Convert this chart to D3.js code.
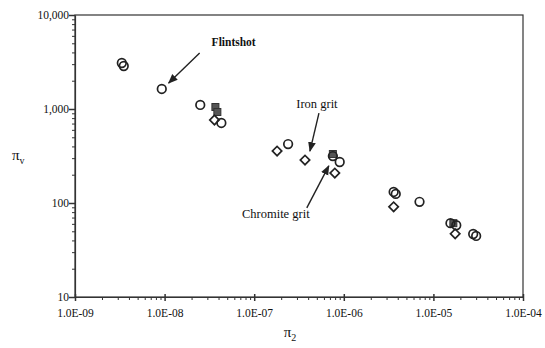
<!DOCTYPE html>
<html>
<head>
<meta charset="utf-8">
<script src="https://cdn.jsdelivr.net/npm/d3@7"></script>
<style>
  body { margin: 0; background: #fff; }
  text { font-family: "Liberation Serif", "DejaVu Serif", serif; fill: #111; }
</style>
</head>
<body>
<div id="chart"></div>
<script>
// open circles
const circlePts = [
  [3.33e-9, 3085], [3.5e-9, 2866], [9.3e-9, 1633], [2.5e-8, 1104], [4.3e-8, 710],
  [2.39e-7, 424], [7.55e-7, 316], [9.0e-7, 273], [3.6e-6, 131], [3.8e-6, 125],
  [7.0e-6, 103], [1.55e-5, 61], [1.8e-5, 58], [2.78e-5, 46.8], [3.0e-5, 44.6]
];
// open diamonds
const diamondPts = [
  [3.6e-8, 764], [1.8e-7, 357], [3.69e-7, 286], [7.94e-7, 208], [3.6e-6, 91], [1.75e-5, 47]
];
// filled squares
const squarePts = [
  [3.69e-8, 1050], [3.88e-8, 929], [7.55e-7, 332], [1.67e-5, 61]
];
const xTicks = [1e-9, 1e-8, 1e-7, 1e-6, 1e-5, 1e-4];
const xTickLabels = ["1.0E-09", "1.0E-08", "1.0E-07", "1.0E-06", "1.0E-05", "1.0E-04"];
const yTicks = [10, 100, 1000, 10000];
const yTickLabels = ["10", "100", "1,000", "10,000"];
// arrow head in data coords, tail and label offsets in px
const notes = [
  { text: "Flintshot", x: 1.11e-8, y: 1890, tail: [31, -30], lab: [65, -37], bold: true },
  { text: "Iron grit", x: 4.19e-7, y: 357, tail: [9, -38], lab: [7, -43] },
  { text: "Chromite grit", x: 6.8e-7, y: 248, tail: [-22, 42], lab: [-53, 52] }
];

const W = 545, H = 348;
const margin = { top: 15, right: 22, bottom: 51, left: 75 };
const width = W - margin.left - margin.right;
const height = H - margin.top - margin.bottom;

const svg = d3.select("#chart").append("svg")
  .attr("width", W).attr("height", H);

svg.append("defs").append("marker")
  .attr("id", "arr")
  .attr("viewBox", "0 0 10 10")
  .attr("refX", 9).attr("refY", 5)
  .attr("markerWidth", 7).attr("markerHeight", 7)
  .attr("orient", "auto")
  .append("path").attr("d", "M0,1 L10,5 L0,9 Z").attr("fill", "#222");

const g = svg.append("g").attr("transform", `translate(${margin.left},${margin.top})`);

const x = d3.scaleLog().domain([1e-9, 1e-4]).range([0, width]);
const y = d3.scaleLog().domain([10, 10000]).range([height, 0]);

// frame
g.append("rect").attr("width", width).attr("height", height)
  .attr("fill", "none").attr("stroke", "#333").attr("stroke-width", 1.2);

function styleAxis(sel, majors, labels) {
  sel.select(".domain").attr("stroke", "#333").attr("stroke-width", 1.2);
  sel.selectAll(".tick line").attr("stroke", "#333");
  sel.selectAll(".tick").each(function(d) {
    const i = majors.findIndex(m => Math.abs(m - d) / m < 1e-6);
    const t = d3.select(this);
    if (i < 0) {
      t.select("text").remove();
    } else {
      t.select("text").text(labels[i]);
      t.select("line").attr("stroke-width", 1.5);
    }
  });
  sel.selectAll("text").style("font-size", "11.5px").attr("fill", "#111");
}

const xg = g.append("g").attr("transform", `translate(0,${height})`)
  .call(d3.axisBottom(x).tickValues(x.ticks()).tickSizeInner(3).tickSizeOuter(0).tickPadding(7));
xg.selectAll(".tick").filter(d => xTicks.some(m => Math.abs(m - d) / m < 1e-6))
  .select("line").attr("y1", -3).attr("y2", 4);
styleAxis(xg, xTicks, xTickLabels);
xg.selectAll("text").attr("dy", "0.9em");

const yg = g.append("g")
  .call(d3.axisLeft(y).tickValues(y.ticks()).tickSizeInner(3).tickSizeOuter(0).tickPadding(3));
yg.selectAll(".tick").filter(d => yTicks.some(m => Math.abs(m - d) / m < 1e-6))
  .select("line").attr("x2", -6);
styleAxis(yg, yTicks, yTickLabels);

// axis titles
const xt = svg.append("text").attr("x", 290).attr("y", 337).attr("text-anchor", "middle")
  .style("font-size", "15px");
xt.append("tspan").text("π");
xt.append("tspan").attr("dy", 4).style("font-size", "10px").text("2");

const yt = svg.append("text").attr("x", 12).attr("y", 160).style("font-size", "15px");
yt.append("tspan").text("π");
yt.append("tspan").attr("dy", 4).style("font-size", "10px").text("v");

// markers
const r = 4.3;
g.selectAll(".sq").data(squarePts).join("rect")
  .attr("x", d => x(d[0]) - 3.5).attr("y", d => y(d[1]) - 3.5)
  .attr("width", 7).attr("height", 7)
  .attr("fill", "#555").attr("stroke", "#333").attr("stroke-width", 1);

g.selectAll(".dm").data(diamondPts).join("path")
  .attr("transform", d => `translate(${x(d[0])},${y(d[1])}) rotate(45)`)
  .attr("d", d3.symbol().type(d3.symbolSquare).size(44))
  .attr("fill", "none").attr("stroke", "#222").attr("stroke-width", 1.7);

g.selectAll(".ci").data(circlePts).join("circle")
  .attr("cx", d => x(d[0])).attr("cy", d => y(d[1])).attr("r", r)
  .attr("fill", "none").attr("stroke", "#222").attr("stroke-width", 1.7);

// annotations
notes.forEach(n => {
  const hx = x(n.x), hy = y(n.y);
  g.append("line")
    .attr("x1", hx + n.tail[0]).attr("y1", hy + n.tail[1])
    .attr("x2", hx).attr("y2", hy)
    .attr("stroke", "#222").attr("stroke-width", 1.4)
    .attr("marker-end", "url(#arr)");
  g.append("text")
    .attr("x", hx + n.lab[0]).attr("y", hy + n.lab[1])
    .attr("text-anchor", "middle")
    .style("font-size", n.bold ? "11.5px" : "12.5px")
    .style("font-weight", n.bold ? "bold" : "normal")
    .text(n.text);
});
</script>
</body>
</html>
